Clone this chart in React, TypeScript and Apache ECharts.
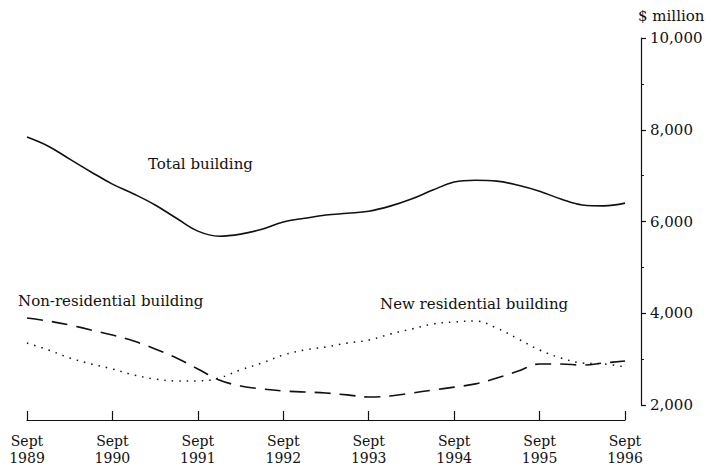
import React, { useEffect, useRef } from "react";
import * as echarts from "echarts";

const quarters = [
  "Sep 1989", "Dec 1989", "Mar 1990", "Jun 1990",
  "Sep 1990", "Dec 1990", "Mar 1991", "Jun 1991",
  "Sep 1991", "Dec 1991", "Mar 1992", "Jun 1992",
  "Sep 1992", "Dec 1992", "Mar 1993", "Jun 1993",
  "Sep 1993", "Dec 1993", "Mar 1994", "Jun 1994",
  "Sep 1994", "Dec 1994", "Mar 1995", "Jun 1995",
  "Sep 1995", "Dec 1995", "Mar 1996", "Jun 1996",
  "Sep 1996",
];

const totalBuilding = [
  7840, 7640, 7360, 7080, 6815, 6600, 6360, 6070, 5790, 5680, 5725, 5830, 5990, 6070, 6140,
  6180, 6225, 6335, 6490, 6685, 6860, 6900, 6880, 6790, 6660, 6490, 6360, 6340, 6400,
];

const nonResidential = [
  3895, 3830, 3745, 3635, 3525, 3395, 3220, 3025, 2785, 2545, 2415, 2350, 2305, 2285, 2260,
  2220, 2175, 2195, 2260, 2325, 2390, 2460, 2590, 2740, 2895, 2895, 2870, 2915, 2960,
];

const newResidential = [
  3350, 3200, 3025, 2895, 2785, 2655, 2565, 2525, 2525, 2590, 2765, 2915, 3090, 3200, 3265,
  3350, 3415, 3545, 3655, 3765, 3810, 3830, 3675, 3440, 3200, 3025, 2915, 2895, 2830,
];

const unitLabel = "$ million";
const seriesNames = ["Total building", "Non-residential building", "New residential building"];

const FONT = '"DejaVu Serif", "Liberation Serif", serif';
const INK = "#111";

export default function App() {
  const ref = useRef<HTMLDivElement>(null);

  useEffect(() => {
    if (!ref.current) return;
    const chart = echarts.init(ref.current, undefined, { renderer: "svg" });
    const option = {
      animation: false,
      backgroundColor: "#ffffff",
      grid: { left: 27, right: 85, top: 38, bottom: 68, containLabel: false },
      xAxis: {
        type: "category",
        data: quarters,
        boundaryGap: false,
        position: "bottom",
        offset: 15,
        axisLine: { show: true, lineStyle: { color: INK, width: 1.2 } },
        axisTick: { show: true, inside: true, length: 9, interval: 3, lineStyle: { color: INK, width: 1.2 } },
        axisLabel: {
          interval: 3,
          margin: 12,
          color: INK,
          fontFamily: FONT,
          fontSize: 14,
          lineHeight: 17,
          formatter: (v: string) => {
            const [m, y] = v.split(" ");
            return (m === "Sep" ? "Sept" : m) + "\n" + y;
          },
        },
        splitLine: { show: false },
      },
      yAxis: {
        type: "value",
        position: "right",
        offset: 16,
        min: 2000,
        max: 10000,
        interval: 2000,
        axisLine: { show: true, lineStyle: { color: INK, width: 1.2 } },
        axisTick: { show: true, length: 5, lineStyle: { color: INK, width: 1.2 } },
        minorTick: { show: true, splitNumber: 2, length: 3, lineStyle: { color: INK, width: 1 } },
        axisLabel: {
          margin: 9,
          color: INK,
          fontFamily: FONT,
          fontSize: 15,
          formatter: (v: number) => v.toLocaleString("en-US"),
        },
        splitLine: { show: false },
      },
      graphic: [
        { type: "text", left: 638, top: 8, style: { text: unitLabel, fill: INK, font: `15px ${FONT}` } },
        { type: "text", left: 148, top: 156, style: { text: seriesNames[0], fill: INK, font: `15px ${FONT}` } },
        { type: "text", left: 18, top: 293, style: { text: seriesNames[1], fill: INK, font: `15px ${FONT}` } },
        { type: "text", left: 380, top: 296, style: { text: seriesNames[2], fill: INK, font: `15px ${FONT}` } },
      ],
      series: [
        {
          name: seriesNames[0],
          type: "line",
          data: totalBuilding,
          smooth: 0.4,
          symbol: "none",
          lineStyle: { color: INK, width: 1.6, type: "solid" },
        },
        {
          name: seriesNames[1],
          type: "line",
          data: nonResidential,
          smooth: 0.4,
          symbol: "none",
          lineStyle: { color: INK, width: 1.6, type: [16, 9] },
        },
        {
          name: seriesNames[2],
          type: "line",
          data: newResidential,
          smooth: 0.4,
          symbol: "none",
          lineStyle: { color: INK, width: 1.5, type: [1.5, 6] },
        },
      ],
    };
    chart.setOption(option as any);
    return () => chart.dispose();
  }, []);

  return (
    <div
      ref={ref}
      style={{ position: "fixed", left: 0, top: 0, width: 710, height: 473, background: "#fff" }}
    />
  );
}
